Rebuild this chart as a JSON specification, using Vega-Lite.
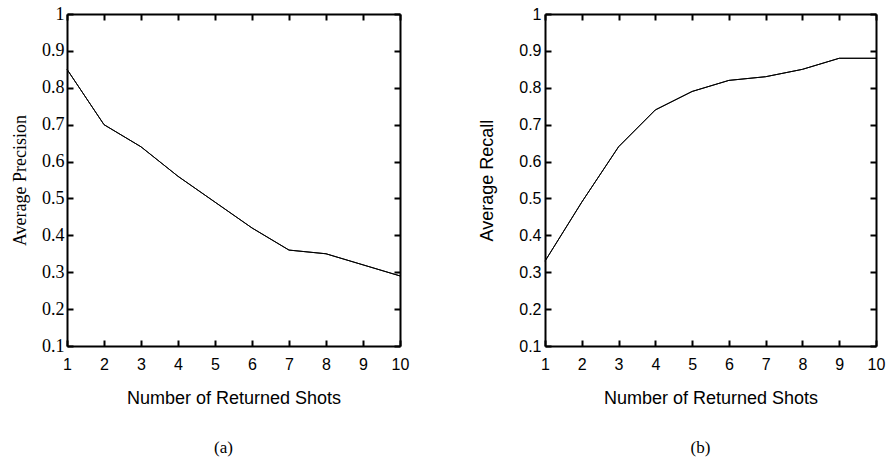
{
  "$schema": "https://vega.github.io/schema/vega-lite/v6.json",
  "padding": {"left": 11, "top": 5, "right": 2, "bottom": 5},
  "background": "white",
  "datasets": {
    "precision": [
      {"shots": 1, "value": 0.85}, {"shots": 2, "value": 0.70}, {"shots": 3, "value": 0.64},
      {"shots": 4, "value": 0.56}, {"shots": 5, "value": 0.49}, {"shots": 6, "value": 0.42},
      {"shots": 7, "value": 0.36}, {"shots": 8, "value": 0.35}, {"shots": 9, "value": 0.32},
      {"shots": 10, "value": 0.29}
    ],
    "recall": [
      {"shots": 1, "value": 0.33}, {"shots": 2, "value": 0.49}, {"shots": 3, "value": 0.64},
      {"shots": 4, "value": 0.74}, {"shots": 5, "value": 0.79}, {"shots": 6, "value": 0.82},
      {"shots": 7, "value": 0.83}, {"shots": 8, "value": 0.85}, {"shots": 9, "value": 0.88},
      {"shots": 10, "value": 0.88}
    ]
  },
  "config": {
    "view": {"stroke": null},
    "axis": {
      "grid": false, "domainColor": "black", "domainWidth": 2, "tickColor": "black",
      "tickWidth": 2, "tickSize": -6, "labelColor": "black", "titleColor": "black",
      "titleFontWeight": "normal", "labelFont": "Liberation Sans", "titleFont": "Liberation Sans",
      "labelFontSize": 16, "titleFontSize": 18
    },
    "title": {"font": "Liberation Serif", "fontSize": 17, "fontWeight": "normal", "color": "black"}
  },
  "spacing": 69,
  "hconcat": [
    {
      "width": 333, "height": 332,
      "title": {"text": "(a)", "orient": "bottom", "frame": "group", "dx": -10, "offset": 33},
      "data": {"name": "precision"},
      "layer": [
        {
          "mark": {"type": "line", "color": "black", "strokeWidth": 1},
          "encoding": {
            "x": {"field": "shots", "type": "quantitative", "scale": {"domain": [1, 10]},
              "axis": {"orient": "bottom", "title": "Number of Returned Shots", "values": [1,2,3,4,5,6,7,8,9,10],
                "format": "d", "labelPadding": 16, "titlePadding": 17, "labelFlush": false}},
            "y": {"field": "value", "type": "quantitative", "scale": {"domain": [0.1, 1]},
              "axis": {"orient": "left", "title": "Average Precision", "values": [0.1,0.2,0.3,0.4,0.5,0.6,0.7,0.8,0.9,1],
                "format": ".1~f", "labelFont": "Liberation Serif", "labelFontSize": 18, "titleFont": "Liberation Serif", "titleFontSize": 18,
                "labelPadding": 9, "titlePadding": 12, "labelFlush": false}}
          }
        },
        {
          "mark": {"type": "line", "color": "black", "strokeWidth": 1},
          "encoding": {
            "x": {"field": "shots", "type": "quantitative",
              "axis": {"orient": "top", "title": null, "labels": false, "values": [1,2,3,4,5,6,7,8,9,10]}},
            "y": {"field": "value", "type": "quantitative",
              "axis": {"orient": "right", "title": null, "labels": false, "values": [0.1,0.2,0.3,0.4,0.5,0.6,0.7,0.8,0.9,1]}}
          }
        }
      ],
      "resolve": {"axis": {"x": "independent", "y": "independent"}}
    },
    {
      "width": 331, "height": 332,
      "title": {"text": "(b)", "orient": "bottom", "frame": "group", "dx": -10, "offset": 33},
      "data": {"name": "recall"},
      "layer": [
        {
          "mark": {"type": "line", "color": "black", "strokeWidth": 1},
          "encoding": {
            "x": {"field": "shots", "type": "quantitative", "scale": {"domain": [1, 10]},
              "axis": {"orient": "bottom", "title": "Number of Returned Shots", "values": [1,2,3,4,5,6,7,8,9,10],
                "format": "d", "labelPadding": 16, "titlePadding": 17, "labelFlush": false}},
            "y": {"field": "value", "type": "quantitative", "scale": {"domain": [0.1, 1]},
              "axis": {"orient": "left", "title": "Average Recall", "values": [0.1,0.2,0.3,0.4,0.5,0.6,0.7,0.8,0.9,1],
                "format": ".1~f", "labelPadding": 10, "titlePadding": 22, "labelFlush": false}}
          }
        },
        {
          "mark": {"type": "line", "color": "black", "strokeWidth": 1},
          "encoding": {
            "x": {"field": "shots", "type": "quantitative",
              "axis": {"orient": "top", "title": null, "labels": false, "values": [1,2,3,4,5,6,7,8,9,10]}},
            "y": {"field": "value", "type": "quantitative",
              "axis": {"orient": "right", "title": null, "labels": false, "values": [0.1,0.2,0.3,0.4,0.5,0.6,0.7,0.8,0.9,1]}}
          }
        }
      ],
      "resolve": {"axis": {"x": "independent", "y": "independent"}}
    }
  ]
}
